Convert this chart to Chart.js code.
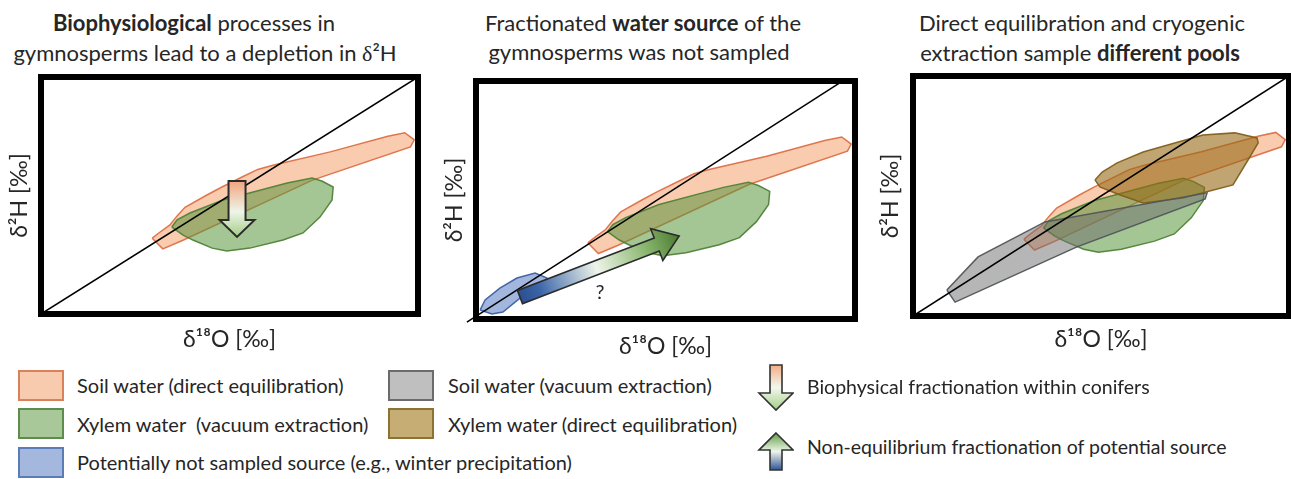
<!DOCTYPE html>
<html><head><meta charset="utf-8">
<script src="https://cdn.jsdelivr.net/npm/chart.js@4.4.0/dist/chart.umd.min.js"></script>
<style>
html,body{margin:0;padding:0;background:#fff;}
body{width:1291px;height:479px;position:relative;overflow:hidden;font-family:Lato,'Open Sans',sans-serif;color:#262626;}
.t{position:absolute;white-space:pre;font-size:22px;line-height:30px;text-align:center;width:500px;}
.t b{font-weight:700;}
.d{font-family:'Liberation Serif',serif;}
.sw{position:absolute;width:42px;height:27px;border:2px solid;}
.lt{position:absolute;white-space:pre;font-size:20px;line-height:30px;}
.lr{font-size:19.5px;}
canvas{position:absolute;}
svg{position:absolute;}
</style></head><body>

<div class="t" style="left:-56px;top:8px"><b>Biophysiological</b> processes in</div>
<div class="t" style="left:-45px;top:38px">gymnosperms lead to a depletion in <span class="d">δ</span>²H</div>
<div class="t" style="left:393px;top:8px">Fractionated <b>water source</b> of the</div>
<div class="t" style="left:389px;top:37px">gymnosperms was not sampled</div>
<div class="t" style="left:832px;top:8px">Direct equilibration and cryogenic</div>
<div class="t" style="left:830px;top:38px">extraction sample <b>different pools</b></div>

<canvas id="c1" width="430" height="310" style="left:0px;top:60px"></canvas>
<canvas id="c2" width="430" height="310" style="left:440px;top:60px"></canvas>
<canvas id="c3" width="421" height="310" style="left:870px;top:60px"></canvas>

<div class="sw" style="left:18px;top:370px;background:#f9cbae;border-color:#d9825a"></div>
<div class="lt" style="left:77px;top:370px">Soil water (direct equilibration)</div>
<div class="sw" style="left:18px;top:408px;background:#a9c89a;border-color:#5e8c4c"></div>
<div class="lt" style="left:77px;top:409px">Xylem water  (vacuum extraction)</div>
<div class="sw" style="left:18px;top:447px;background:#a4b7dc;border-color:#5a7cb8"></div>
<div class="lt" style="left:77px;top:447px">Potentially not sampled source (e.g., winter precipitation)</div>
<div class="sw" style="left:388px;top:370px;background:#bfbfbf;border-color:#6b6b6b"></div>
<div class="lt" style="left:448px;top:370px">Soil water (vacuum extraction)</div>
<div class="sw" style="left:388px;top:408px;background:#c6ad74;border-color:#8c7334"></div>
<div class="lt" style="left:448px;top:409px">Xylem water (direct equilibration)</div>

<svg style="left:756px;top:363px" width="38" height="50">
<defs><linearGradient id="gd" x1="0" y1="0" x2="0" y2="1">
<stop offset="0" stop-color="#f4ad82"/><stop offset="0.5" stop-color="#f3f8ef"/><stop offset="1" stop-color="#a3cd86"/></linearGradient></defs>
<polygon points="14,2 26,2 26,30 37,30 20,47 3,30 14,30" fill="url(#gd)" stroke="#333" stroke-width="1.6"/>
</svg>
<div class="lt lr" style="left:807px;top:372px">Biophysical fractionation within conifers</div>
<svg style="left:756px;top:430px" width="38" height="43">
<defs><linearGradient id="gu" x1="0" y1="0" x2="0" y2="1">
<stop offset="0" stop-color="#5f9e44"/><stop offset="0.5" stop-color="#eef5ea"/><stop offset="1" stop-color="#2f5597"/></linearGradient></defs>
<polygon points="20,3 37,20 26,20 26,40 14,40 14,20 3,20" fill="url(#gu)" stroke="#333" stroke-width="1.6"/>
</svg>
<div class="lt lr" style="left:807px;top:432px">Non-equilibrium fractionation of potential source</div>

<script>
// ---- data (normalised δ18O / δ2H units, 0–100 across each frame) ----
const soilEquil = [[29.5,32.0],[32.3,27.5],[37.5,31.0],[72.0,56.5],[98.0,70.5],[99.0,73.5],[96.5,76.5],[92.0,75.0],[76.7,68.4],[61.5,62.8],[57.5,61.0],[53.6,58.0],[48.0,53.6],[44.0,50.2],[38.2,45.0],[36.1,41.4],[34.2,37.6],[31.6,34.6]];
const xylemVac = [[34.7,36.7],[37.7,33.3],[40.3,31.2],[45.4,27.8],[49.3,26.6],[55.4,27.8],[64.2,31.2],[69.5,34.2],[74.0,40.9],[77.2,48.1],[77.5,53.6],[74.5,56.1],[71.9,57.4],[65.3,55.3],[48.3,48.1],[39.5,42.6],[36.1,39.7]];
const winterPrecip = [[1.1,3.8],[4.2,2.1],[7.1,2.9],[11.6,8.8],[18.2,13.0],[18.7,17.2],[15.6,19.3],[10.8,17.2],[6.3,13.0],[2.4,8.0]];
const soilVac = [[9.0,10.8],[11.2,5.8],[43.6,28.8],[77.7,48.8],[78.2,51.3],[35.1,39.2],[17.3,24.6]];
const xylemEquil = [[48.4,56.7],[49.7,53.8],[55.1,50.4],[61.2,47.1],[71.8,49.2],[85.1,54.6],[89.1,65.0],[91.8,72.1],[91.5,74.2],[85.6,76.3],[77.1,75.4],[61.2,68.3],[54.3,63.8],[50.3,60.0]];
const lineP1 = [[0,0],[100,100]];
const lineP2 = [[-2.4,-1.3],[97.1,100.4]];
const lineP3 = [[0,0],[100,100]];
const arrowBio = [[52.0,56.1],[52.0,32.5]];
const arrowSource = [[11.6,9.2],[53.6,34.9]];
const questionMark = [32.7,11.3];
const xTitle = 'δ¹⁸O [‰]';
const yTitle = 'δ²H [‰]';

// ---- styles ----
const ST = {
  soilEquil:   {bg:'rgba(244,160,110,0.55)', bd:'rgba(222,112,70,0.95)'},
  xylemVac:    {bg:'rgba(90,150,60,0.55)',  bd:'rgba(80,130,55,0.95)'},
  winterPrecip:{bg:'rgba(70,110,190,0.5)',  bd:'rgba(60,95,165,0.95)'},
  soilVac:     {bg:'rgba(110,110,110,0.5)', bd:'rgba(80,85,90,0.95)'},
  xylemEquil:  {bg:'rgba(150,105,20,0.6)',  bd:'rgba(130,95,25,0.95)'}
};
const FONT = 'Lato, "Open Sans", sans-serif';
Chart.defaults.font.family = FONT;

function poly(label, arr, st){
  const pts = arr.map(p => ({x:p[0], y:p[1]}));
  pts.push({x:arr[0][0], y:arr[0][1]});
  return {label, data:pts, showLine:true, fill:'shape', backgroundColor:st.bg, borderColor:st.bd,
          borderWidth:1.5, pointRadius:0, tension:0, borderJoinStyle:'miter'};
}
function diag(arr, clip){
  return {label:'1:1', data:arr.map(p=>({x:p[0],y:p[1]})), showLine:true, fill:false,
          borderColor:'#000', borderWidth:1.5, pointRadius:0, clip: clip ? undefined : false};
}

function deco(cfg){
  return {
    id:'deco',
    afterDatasetsDraw(chart){
      const {ctx, scales:{x,y}} = chart;
      (cfg.arrows||[]).forEach(a => {
        const sx=x.getPixelForValue(a.pts[0][0]), sy=y.getPixelForValue(a.pts[0][1]);
        const tx=x.getPixelForValue(a.pts[1][0]), ty=y.getPixelForValue(a.pts[1][1]);
        const dx=tx-sx, dy=ty-sy, L=Math.hypot(dx,dy), ux=dx/L, uy=dy/L, nx=-uy, ny=ux;
        const bx=tx-ux*a.headLen, by=ty-uy*a.headLen;
        const P=[[sx+nx*a.shaft,sy+ny*a.shaft],[bx+nx*a.shaft,by+ny*a.shaft],[bx+nx*a.head,by+ny*a.head],[tx,ty],
                 [bx-nx*a.head,by-ny*a.head],[bx-nx*a.shaft,by-ny*a.shaft],[sx-nx*a.shaft,sy-ny*a.shaft]];
        const g=ctx.createLinearGradient(sx,sy,tx,ty);
        a.stops.forEach(s=>g.addColorStop(s[0],s[1]));
        ctx.save();
        ctx.beginPath();
        P.forEach((p,i)=> i?ctx.lineTo(p[0],p[1]):ctx.moveTo(p[0],p[1]));
        ctx.closePath();
        ctx.fillStyle=g; ctx.fill();
        ctx.lineWidth=a.lw; ctx.strokeStyle='#2b2b2b'; ctx.lineJoin='miter'; ctx.stroke();
        ctx.restore();
      });
      (cfg.labels||[]).forEach(t => {
        ctx.save();
        ctx.font = '20px ' + FONT; ctx.fillStyle='#262626';
        ctx.textAlign='center'; ctx.textBaseline='middle';
        ctx.fillText(t.text, x.getPixelForValue(t.at[0]), y.getPixelForValue(t.at[1]));
        ctx.restore();
      });
    },
    afterDraw(chart){
      const {ctx, chartArea:a} = chart;
      ctx.save(); ctx.lineWidth=6; ctx.strokeStyle='#000';
      ctx.strokeRect(a.left, a.top, a.right-a.left, a.bottom-a.top);
      ctx.restore();
    }
  };
}

function panel(id, canvasBox, area, yTitleX, xTitleY, datasets, decoCfg){
  const fs=23, lh=fs*1.2;
  const pby = area.left - lh/2 - yTitleX;
  const ptx = xTitleY - area.bottom - lh/2;
  const pad = {
    left: area.left - canvasBox.left - (lh + pby),
    top: area.top - canvasBox.top,
    right: canvasBox.left + canvasBox.w - area.right,
    bottom: canvasBox.top + canvasBox.h - area.bottom - (lh + ptx)
  };
  const common = {grid:{display:false, drawTicks:false}, border:{display:false}, ticks:{display:false}};
  new Chart(document.getElementById(id), {
    type:'scatter',
    data:{datasets},
    options:{
      responsive:false, animation:false, events:[],
      layout:{padding:pad},
      plugins:{legend:{display:false}, title:{display:false}, tooltip:{enabled:false}},
      scales:{
        x:Object.assign({type:'linear', position:'bottom', min:0, max:100,
          title:{display:true, text:xTitle, color:'#262626', font:{size:fs, family:FONT}, padding:{top:ptx, bottom:0}}}, common),
        y:Object.assign({type:'linear', position:'left', min:0, max:100,
          title:{display:true, text:yTitle, color:'#262626', font:{size:fs, family:FONT}, padding:{top:0, bottom:pby}}}, common)
      }
    },
    plugins:[deco(decoCfg)]
  });
}

const bioStops = [[0,'#f2a47f'],[0.55,'#eef5e8'],[1,'#a2cc86']];
const srcStops = [[0,'#2c4f8f'],[0.12,'#3a64a8'],[0.48,'#eef4ea'],[0.8,'#86b46a'],[1,'#4a7a30']];

panel('c1', {left:0, top:60, w:430, h:310}, {left:41, top:77, right:418, bottom:314}, 20, 340,
  [diag(lineP1, true), poly('Xylem water (vacuum extraction)', xylemVac, ST.xylemVac),
   poly('Soil water (direct equilibration)', soilEquil, ST.soilEquil)],
  {arrows:[{pts:arrowBio, shaft:8.5, head:17.5, headLen:17, lw:2, stops:bioStops}]});

panel('c2', {left:440, top:60, w:430, h:310}, {left:476, top:81, right:855, bottom:319}, 455, 347,
  [diag(lineP2, false), poly('Potentially not sampled source', winterPrecip, ST.winterPrecip),
   poly('Xylem water (vacuum extraction)', xylemVac, ST.xylemVac),
   poly('Soil water (direct equilibration)', soilEquil, ST.soilEquil)],
  {arrows:[{pts:arrowSource, shaft:7, head:17, headLen:24, lw:1.6, stops:srcStops}],
   labels:[{text:'?', at:questionMark}]});

panel('c3', {left:870, top:60, w:421, h:310}, {left:913, top:76, right:1289, bottom:316}, 891, 340,
  [diag(lineP3, true), poly('Soil water (vacuum extraction)', soilVac, ST.soilVac),
   poly('Xylem water (direct equilibration)', xylemEquil, ST.xylemEquil),
   poly('Xylem water (vacuum extraction)', xylemVac, ST.xylemVac),
   poly('Soil water (direct equilibration)', soilEquil, ST.soilEquil)],
  {});
</script>
</body></html>
